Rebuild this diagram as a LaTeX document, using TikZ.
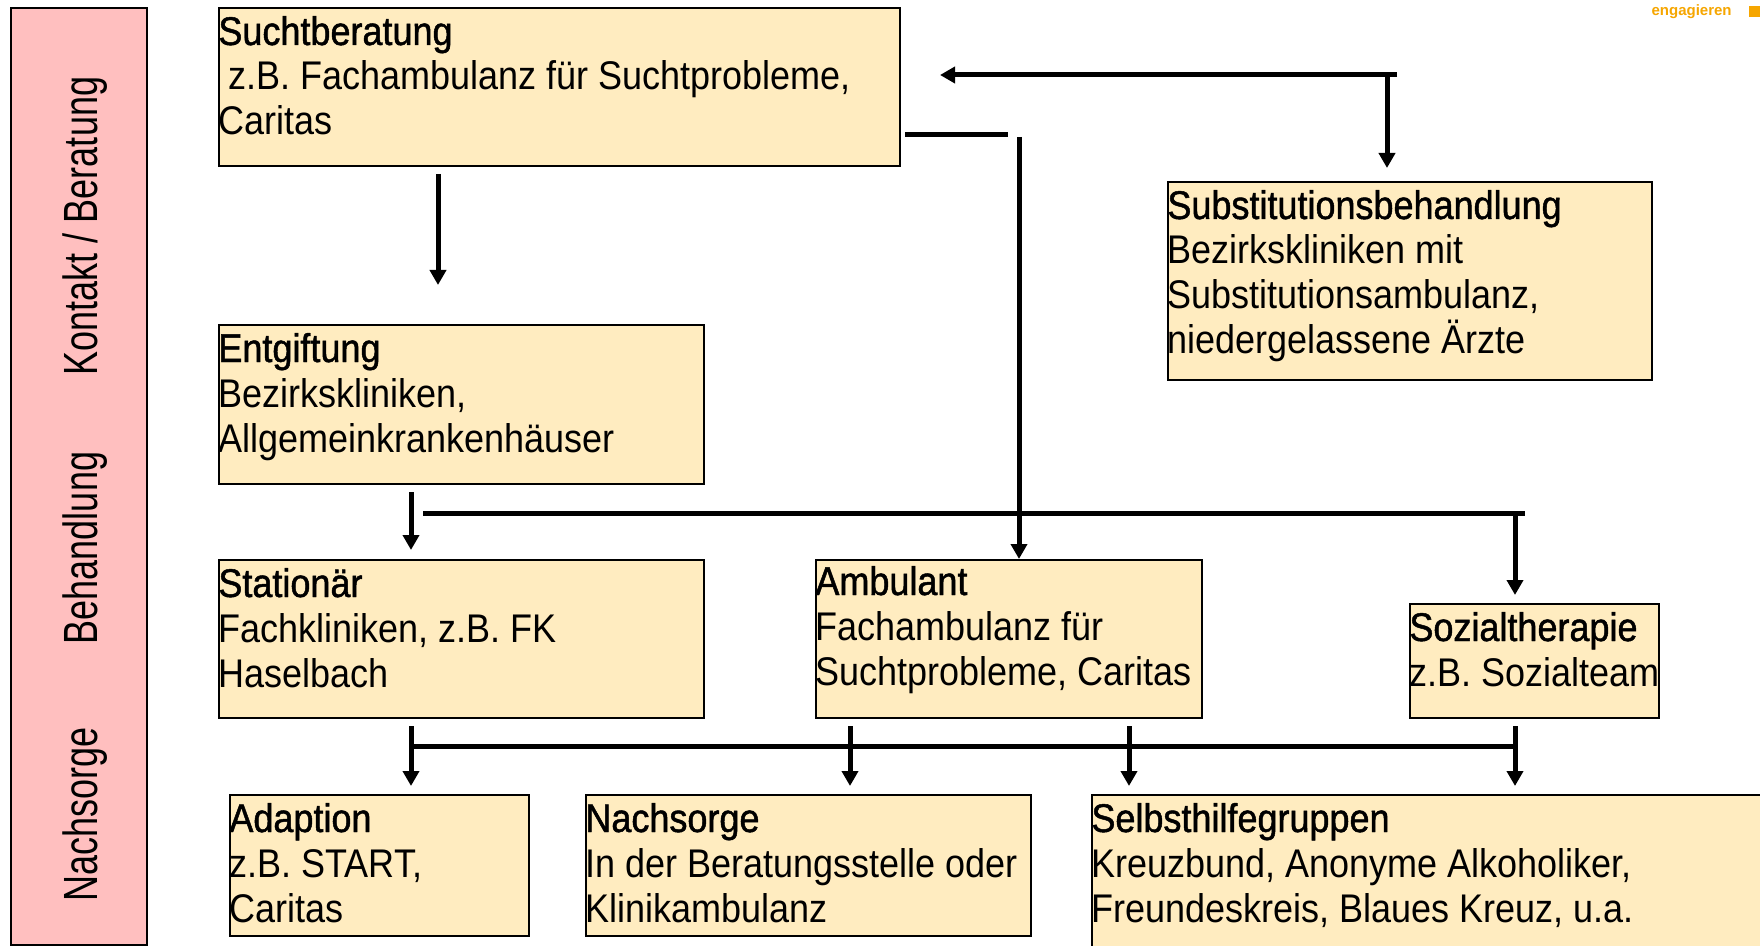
\documentclass[tikz,border=0pt]{standalone}
\usepackage{fontspec}
\setmainfont{Liberation Sans}
\newfontfamily\bodyfont[FakeStretch=0.9]{Liberation Sans}
\newfontfamily\titlefont[FakeStretch=0.9,FakeBold=1.2]{Liberation Sans}
\newfontfamily\barfont[FakeStretch=0.75]{Liberation Sans}
\usepackage{tikz}
\usetikzlibrary{positioning}
\usetikzlibrary{arrows.meta}

\definecolor{stagefill}{RGB}{255,236,192}
\definecolor{phasefill}{RGB}{255,191,191}
\definecolor{brandorange}{RGB}{246,166,0}

\newcommand{\px}{0.5pt}

\tikzset{
  stagebox/.style={draw=black, line width=1pt, fill=stagefill, anchor=north west, inner sep=0pt},
  stagetext/.style={anchor=base west, inner sep=0pt, align=left, font=\bodyfont\fontsize{20}{22.5}\selectfont},
  flow/.style={line width=2.5pt},
  flowarrow/.style={flow, -{Triangle[length=7.5pt,width=8pt]}},
  phaselabel/.style={rotate=90, anchor=base, inner sep=0pt, font=\barfont\fontsize{24}{28}\selectfont}
}

\begin{document}
\begin{tikzpicture}[x=\px, y=-\px]
  \useasboundingbox (0,0) rectangle (1760,946);
  \clip (0,0) rectangle (1760,946);
  \fill[white] (0,0) rectangle (1760,946);

  % phase column
  \node[draw=black, line width=1pt, fill=phasefill, anchor=north west, inner sep=0pt,
        minimum width=136*\px, minimum height=937*\px] (phases) at (10,7) {};
  \node[phaselabel] (kontakt) at (97,226) {Kontakt / Beratung};
  \node[phaselabel] (behandl) at (97,548) {Behandlung};
  \node[phaselabel] (nachsorge) at (97,814) {Nachsorge};

  % stages
  \node[stagebox, minimum width=681*\px, minimum height=158*\px] (sucht) at (218,7) {};
  \node[stagebox, minimum width=485*\px, minimum height=159*\px] (entg) at (218,324) {};
  \node[stagebox, minimum width=484*\px, minimum height=198*\px] (subst) at (1167,181) {};
  \node[stagebox, minimum width=485*\px, minimum height=158*\px] (stat) at (218,559) {};
  \node[stagebox, minimum width=386*\px, minimum height=158*\px] (ambul) at (815,559) {};
  \node[stagebox, minimum width=249*\px, minimum height=114*\px] (sozial) at (1409,603) {};
  \node[stagebox, minimum width=299*\px, minimum height=141*\px] (adapt) at (229,794) {};
  \node[stagebox, minimum width=445*\px, minimum height=141*\px] (nachs) at (585,794) {};
  \node[stagebox, minimum width=700*\px, minimum height=180*\px] (selbst) at (1091,794) {};

  % texts sit on the baseline of their last line
  \node[stagetext] (sucht-t) at ([yshift=-64pt]sucht.north west)
    {{\titlefont Suchtberatung}\\\ z.B. Fachambulanz für Suchtprobleme,\\Caritas};
  \node[stagetext] (entg-t) at ([yshift=-64pt]entg.north west)
    {{\titlefont Entgiftung}\\Bezirkskliniken,\\Allgemeinkrankenhäuser};
  \node[stagetext] (subst-t) at ([yshift=-86.5pt]subst.north west)
    {{\titlefont Substitutionsbehandlung}\\Bezirkskliniken mit\\Substitutionsambulanz,\\niedergelassene Ärzte};
  \node[stagetext] (stat-t) at ([yshift=-64pt]stat.north west)
    {{\titlefont Stationär}\\Fachkliniken, z.B. FK\\Haselbach};
  \node[stagetext] (ambul-t) at ([yshift=-63pt]ambul.north west)
    {{\titlefont Ambulant}\\Fachambulanz für\\Suchtprobleme, Caritas};
  \node[stagetext] (sozial-t) at ([yshift=-41.5pt]sozial.north west)
    {{\titlefont Sozialtherapie}\\z.B. Sozialteam};
  \node[stagetext] (adapt-t) at ([yshift=-64pt]adapt.north west)
    {{\titlefont Adaption}\\z.B. START,\\Caritas};
  \node[stagetext] (nachs-t) at ([yshift=-64pt]nachs.north west)
    {{\titlefont Nachsorge}\\In der Beratungsstelle oder\\Klinikambulanz};
  \node[stagetext] (selbst-t) at ([yshift=-64pt]selbst.north west)
    {{\titlefont Selbsthilfegruppen}\\Kreuzbund, Anonyme Alkoholiker,\\Freundeskreis, Blaues Kreuz, u.a.};

  % connectors
  \coordinate (topjoin) at (1387,75);
  \coordinate (topend) at (1397,75);
  \coordinate (stub) at (1008,135);
  \coordinate (ambdrop) at (1019,137);
  \coordinate (midstart) at (423,513);
  \coordinate (midjoin) at (1515,513);
  \coordinate (midend) at (1525,513);
  \coordinate (lowstart) at (411,746);
  \coordinate (lowend) at (1515,746);

  \draw[flowarrow, shorten <=3.5pt, shorten >=19.5pt] (sucht.south -| 438,0) -- (entg.north -| 438,0);
  \draw[flowarrow, shorten >=19.5pt] (topend) -- (topend -| sucht.east);
  \draw[flowarrow, shorten >=6.5pt] (topjoin) -- (topjoin |- subst.north);
  \draw[flow, shorten <=2pt] (stub -| sucht.east) -- (stub);
  \draw[flowarrow] (ambdrop) -- (ambdrop |- ambul.north);
  \draw[flowarrow, shorten <=3.5pt, shorten >=4.5pt] (entg.south -| 411,0) -- (stat.north -| 411,0);
  \draw[flow] (midstart) -- (midend);
  \draw[flowarrow, shorten >=4pt] (midjoin) -- (midjoin |- sozial.north);
  \draw[flow] (lowstart) -- (lowend);
  \foreach \xa/\src/\dst in {411/stat/adapt, 850/ambul/nachs, 1129/ambul/selbst, 1515/sozial/selbst}
    \draw[flowarrow, shorten <=3.5pt, shorten >=4pt] (\src.south -| \xa,0) -- (\dst.north -| \xa,0);

  \node[anchor=base east, inner sep=0pt, text=brandorange, font=\bfseries\fontsize{7.5}{9}\selectfont]
    (brand) at (1732,16) {engagieren};
  \fill[brandorange] (1749,6) rectangle (1764,17);
\end{tikzpicture}
\end{document}
